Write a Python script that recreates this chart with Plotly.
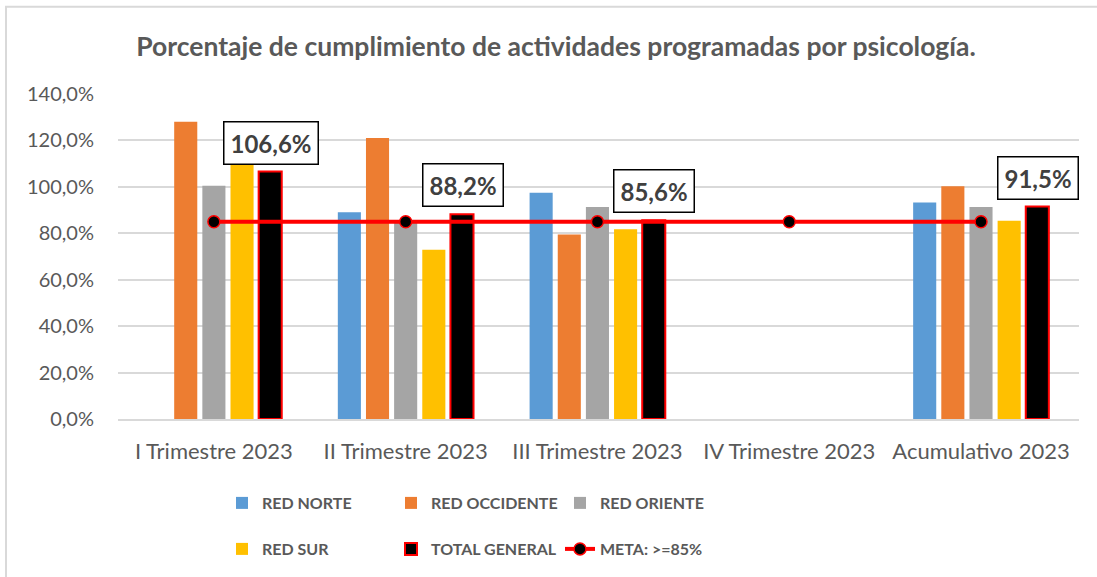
import plotly.graph_objects as go

categories = ["I Trimestre 2023", "II Trimestre 2023", "III Trimestre 2023", "IV Trimestre 2023", "Acumulativo 2023"]
red_norte = [None, 89.1, 97.5, None, 93.3]
red_occidente = [128.0, 121.1, 79.5, None, 100.3]
red_oriente = [100.5, 85.0, 91.3, None, 91.3]
red_sur = [111.2, 72.9, 81.7, None, 85.4]
total_general = [106.6, 88.2, 85.6, None, 91.5]
meta = [85, 85, 85, 85, 85]
yticks = [0, 20, 40, 60, 80, 100, 120, 140]

FONT = "Lato"
GREY_TXT = "#595959"
W, H = 1097, 577
PL, PR, PT, PB = 118, 1079, 94.3, 419.3  # plot area in pixels

def frac(vals):
    return [None if v is None else v / 100 for v in vals]

fig = go.Figure()
bar_series = [
    ("RED NORTE", red_norte, "#5b9bd5", "legend"),
    ("RED OCCIDENTE", red_occidente, "#ed7d31", "legend"),
    ("RED ORIENTE", red_oriente, "#a5a5a5", "legend"),
    ("RED SUR", red_sur, "#ffc000", "legend2"),
]
for name, vals, col, lg in bar_series:
    fig.add_trace(go.Bar(x=categories, y=frac(vals), name=name, marker=dict(color=col, line=dict(width=0)), legend=lg))

fig.add_trace(go.Bar(x=categories, y=frac(total_general), name="TOTAL GENERAL",
                     marker=dict(color="black", line=dict(color="#ff0000", width=2)), legend="legend2"))

fig.add_trace(go.Scatter(x=categories, y=frac(meta), name="META: >=85%", mode="lines+markers",
                         line=dict(color="#ff0000", width=4),
                         marker=dict(color="black", size=12, line=dict(color="#ff0000", width=1.5)),
                         legend="legend2"))

for cat, v in zip(categories, total_general):
    if v is None:
        continue
    fig.add_annotation(x=cat, y=v / 100, xref="x", yref="y", xshift=57, yshift=7,
                       yanchor="bottom", showarrow=False,
                       text=f"<b>{v:.1f}%</b>".replace(".", ","),
                       font=dict(family=FONT, size=24, color="#404040"),
                       bgcolor="white", bordercolor="black", borderwidth=1.5, borderpad=6)

pw, ph = PR - PL, PB - PT
# outer frame
fig.add_shape(type="rect", xref="paper", yref="paper",
              x0=(6 - PL) / pw, x1=(1104 - PL) / pw,
              y0=(PB - 584) / ph, y1=(PB - 7) / ph,
              line=dict(color="#d9d9d9", width=2), fillcolor="rgba(0,0,0,0)", layer="below")

legend_font = dict(family=FONT, size=16, color=GREY_TXT, weight="bold")
fig.update_layout(
    width=W, height=H,
    margin=dict(l=PL, r=W - PR, t=PT, b=H - PB),
    paper_bgcolor="white", plot_bgcolor="white",
    separators=",.",
    barmode="group", bargap=0.266, bargroupgap=0.18,
    title=dict(text="<b>Porcentaje de cumplimiento de actividades programadas por psicología.</b>",
               x=556 / W, xanchor="center", y=1 - 47 / H, yanchor="middle",
               font=dict(family=FONT, size=26.5, color=GREY_TXT)),
    font=dict(family=FONT, color=GREY_TXT),
    showlegend=True,
    legend=dict(orientation="h", xref="container", yref="container",
                x=222 / W, xanchor="left", y=1 - 486 / H, yanchor="top",
                entrywidth=124, font=legend_font, bgcolor="rgba(0,0,0,0)", traceorder="normal"),
    legend2=dict(orientation="h", xref="container", yref="container",
                 x=222 / W, xanchor="left", y=1 - 532 / H, yanchor="top",
                 entrywidth=124, font=legend_font, bgcolor="rgba(0,0,0,0)", traceorder="normal"),
)
fig.update_xaxes(showgrid=False, showline=True, linecolor="#d9d9d9", linewidth=2,
                 tickfont=dict(family=FONT, size=22, color=GREY_TXT), ticks="", ticklabelstandoff=12)
fig.update_yaxes(range=[0, 1.4], tickvals=[t / 100 for t in yticks], tickformat=".1%",
                 showgrid=True, gridcolor="#d9d9d9", gridwidth=1.5, zeroline=False, showline=False,
                 tickfont=dict(family=FONT, size=20, color=GREY_TXT), ticklabelstandoff=23)

fig.write_html("out.html", config={"displayModeBar": False},
               post_script="document.body.style.margin='0';")
